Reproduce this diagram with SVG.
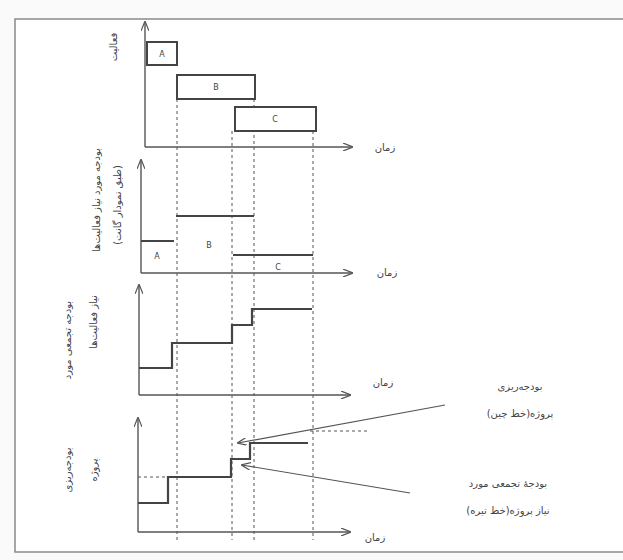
<svg xmlns="http://www.w3.org/2000/svg" width="623" height="560" viewBox="0 0 623 560">
<defs>
<marker id="ah" markerWidth="10" markerHeight="8" refX="9" refY="4" orient="auto" markerUnits="userSpaceOnUse">
<path d="M0,0 L10,4 L0,8" fill="none" stroke="#555" stroke-width="1.2"/>
</marker>
</defs>
<style>
.ax{stroke:#555;stroke-width:1.4;fill:none}
.st{stroke:#444;stroke-width:2.2;fill:none}
.bx{stroke:#444;stroke-width:2;fill:#fff}
.ds{stroke:#555;stroke-width:1;stroke-dasharray:3,3;fill:none}
.ln{stroke:#555;stroke-width:1.2;fill:none}
.t{font-family:"DejaVu Sans",sans-serif;font-size:10px;fill:#444}
.l{font-family:"DejaVu Sans",sans-serif;font-size:10px;fill:#444}
.s{font-family:"DejaVu Sans",sans-serif;font-size:8px;fill:#444}
</style>
<rect x="0" y="0" width="623" height="560" fill="#fafafa"/>
<path d="M623,19 L15,19 L15,552 L623,552" fill="none" stroke="#8a8a8a" stroke-width="1.5"/>
<rect x="16" y="20" width="607" height="531" fill="#fff"/>

<g id="connectors">
<path class="ds" d="M177,99 V540"/>
<path class="ds" d="M232,131 V540"/>
<path class="ds" d="M254,99 V540"/>
<path class="ds" d="M313,131 V540"/>
<path class="ds" d="M138,477 H168"/>
<path class="ds" d="M310,431 H370"/>
<path class="ln" d="M445,405 L238,443" marker-end="url(#ah)"/>
<path class="ln" d="M410,493 L242,465" marker-end="url(#ah)"/>
</g>

<g id="chart1">
<path class="ax" d="M145,147 V22" marker-end="url(#ah)"/>
<path class="ax" d="M145,147 H352" marker-end="url(#ah)"/>
<rect id="A" class="bx" x="147" y="42" width="30" height="23"/>
<text class="s" x="162" y="57" text-anchor="middle">A</text>
<rect id="B" class="bx" x="177" y="75" width="78" height="24"/>
<text class="s" x="216" y="90" text-anchor="middle">B</text>
<rect id="C" class="bx" x="235" y="107" width="81" height="24"/>
<text class="s" x="275" y="122" text-anchor="middle">C</text>
<text class="t" x="385" y="151" text-anchor="middle">زمان</text>
<text class="l" transform="rotate(-90 117 47)" x="117" y="47" text-anchor="middle">فعالیت</text>
</g>

<g id="chart2">
<path class="ax" d="M141,273 V160" marker-end="url(#ah)"/>
<path class="ax" d="M141,273 H352" marker-end="url(#ah)"/>
<path class="st" d="M141,241 H174"/>
<path class="st" d="M176,216 H254"/>
<path class="st" d="M233,255 H313"/>
<text class="s" x="157" y="259" text-anchor="middle">A</text>
<text class="s" x="209" y="248" text-anchor="middle">B</text>
<text class="s" x="278" y="270" text-anchor="middle">C</text>
<text class="t" x="387" y="276" text-anchor="middle">زمان</text>
<text class="l" transform="rotate(-90 100 200)" x="100" y="200" text-anchor="middle">بودجه مورد نیاز فعالیت‌ها</text>
<text class="l" transform="rotate(-90 121 205)" x="121" y="205" text-anchor="middle">(طبق نمودار گانت)</text>
</g>

<g id="chart3">
<path class="ax" d="M139,395 V285" marker-end="url(#ah)"/>
<path class="ax" d="M139,395 H350" marker-end="url(#ah)"/>
<path class="st" d="M139,368 H172 V343 H232 V325 H252 V309 H312"/>
<text class="t" x="383" y="386" text-anchor="middle">زمان</text>
<text class="l" transform="rotate(-90 71 340)" x="71" y="340" text-anchor="middle">بودجه تجمعی مورد</text>
<text class="l" transform="rotate(-90 97 322)" x="97" y="322" text-anchor="middle">نیاز فعالیت‌ها</text>
</g>

<g id="chart4">
<path class="ax" d="M138,532 V418" marker-end="url(#ah)"/>
<path class="ax" d="M138,532 H350" marker-end="url(#ah)"/>
<path class="st" d="M138,503 H168 V477 H231 V459 H250 V443 H308"/>
<text class="t" x="375" y="541" text-anchor="middle">زمان</text>
<text class="l" transform="rotate(-90 71 470)" x="71" y="470" text-anchor="middle">بودجه‌ریزی</text>
<text class="l" transform="rotate(-90 97 470)" x="97" y="470" text-anchor="middle">پروژه</text>
</g>

<g id="legend">
<text class="l" x="520" y="390" text-anchor="middle">بودجه‌ریزی</text>
<text class="l" x="520" y="417" text-anchor="middle">پروژه(خط چین)</text>
<text class="l" x="508" y="487" text-anchor="middle">بودجهٔ تجمعی مورد</text>
<text class="l" x="508" y="514" text-anchor="middle">نیاز پروژه(خط تیره)</text>
</g>
</svg>
